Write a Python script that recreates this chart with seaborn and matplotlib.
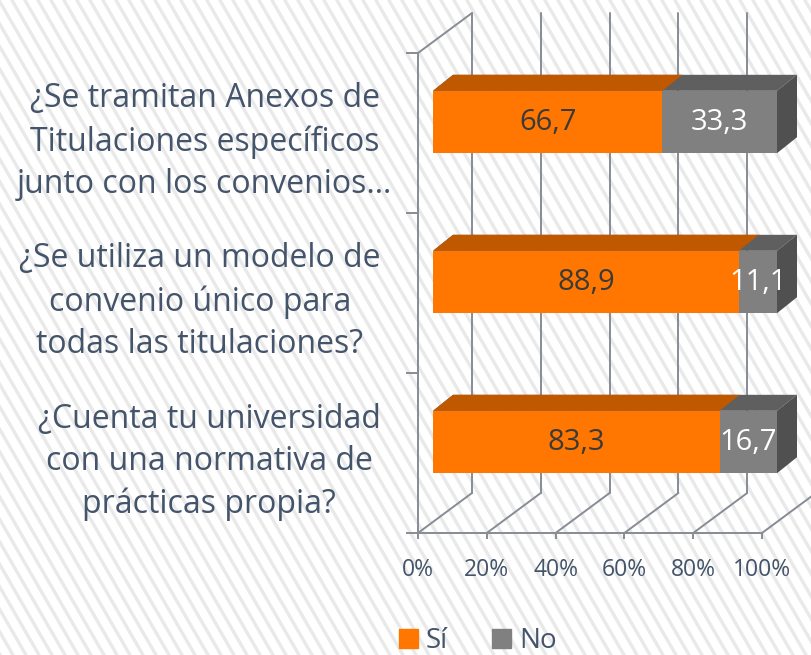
import numpy as np
import pandas as pd
import matplotlib.pyplot as plt
import seaborn as sns
from matplotlib.patches import Patch, Polygon
from matplotlib.lines import Line2D
from matplotlib.transforms import ScaledTranslation

# Datos de la encuesta (%)
preguntas = [
    "¿Se tramitan Anexos de\nTitulaciones específicos\njunto con los convenios…",
    "¿Se utiliza un modelo de\nconvenio único para\ntodas las titulaciones?",
    "¿Cuenta tu universidad\ncon una normativa de\nprácticas propia?",
]
si = [66.7, 88.9, 83.3]
no = [33.3, 11.1, 16.7]
x_ticks = [0, 20, 40, 60, 80, 100]
x_labels = ["0%", "20%", "40%", "60%", "80%", "100%"]

ORANGE, ORANGE_TOP = "#ff7700", "#c05800"
GRAY, GRAY_TOP, GRAY_SIDE = "#808080", "#5f5f5f", "#505050"
GRID = "#878c95"
TEXT = "#44546a"

sns.set_theme(style="white")
plt.rcParams["font.family"] = ["Open Sans", "DejaVu Sans"]

W, H = 811, 655
fig = plt.figure(figsize=(W / 100, H / 100), dpi=100)
fig.patch.set_facecolor("white")

# fondo rayado (decoracion)
step, shift = 13, H * np.tan(np.radians(30))
for xs in np.arange(-shift, W + step, step):
    fig.add_artist(Line2D([xs / W, (xs + shift) / W], [1, 0], transform=fig.transFigure,
                          color="#e9e9e9", lw=2.4, zorder=-10))

ax = fig.add_axes([418 / W, 122 / H, 344 / W, 480 / H])
ax.patch.set_alpha(0)

df = pd.DataFrame({"pregunta": preguntas, "si": si, "total": np.add(si, no)})
sns.barplot(data=df, x="total", y="pregunta", color=GRAY, orient="h", width=0.39,
            saturation=1, errorbar=None, ax=ax)
sns.barplot(data=df, x="si", y="pregunta", color=ORANGE, orient="h", width=0.39,
            saturation=1, errorbar=None, ax=ax)
ax.set_xlim(0, 100)
ax.set_ylim(2.5, -0.5)
ax.set_xlabel("")
ax.set_ylabel("")

# pixel -> data units for the 3D effect
o = ax.transData.transform((0, 0))
ux = ax.transData.transform((1, 0))[0] - o[0]
uy = ax.transData.transform((0, 1))[1] - o[1]


def px(dx, dy):
    return dx / ux, dy / uy


front_tr = ax.transData + ScaledTranslation(15 / 100, 11 / 100, fig.dpi_scale_trans)
dep = px(20, 16)
wall = px(54, 40)

# walls and floor
for t in x_ticks:
    ax.plot([t, t + wall[0]], [2.5, 2.5 + wall[1]], color=GRID, lw=1.4, clip_on=False, zorder=1)
    ax.plot([t + wall[0]] * 2, [2.5 + wall[1], -0.5 + wall[1]], color=GRID, lw=1.4,
            clip_on=False, zorder=1)
ax.plot([0, wall[0]], [-0.5, -0.5 + wall[1]], color=GRID, lw=1.4, clip_on=False, zorder=1)

# bars with depth
bars = list(ax.patches)
for k, p in enumerate(bars):
    is_gray = k < len(preguntas)
    p.set_transform(front_tr)
    p.set_clip_on(False)
    p.set_linewidth(0)
    p.set_zorder(5)
    x0, y0, w, h = p.get_x(), p.get_y(), p.get_width(), p.get_height()
    top = [(x0, y0), (x0 + w, y0), (x0 + w + dep[0], y0 + dep[1]), (x0 + dep[0], y0 + dep[1])]
    ax.add_patch(Polygon(top, closed=True, facecolor=GRAY_TOP if is_gray else ORANGE_TOP,
                         linewidth=0, transform=front_tr, zorder=3 if is_gray else 4, clip_on=False))
    if is_gray:
        side = [(x0 + w, y0), (x0 + w + dep[0], y0 + dep[1]),
                (x0 + w + dep[0], y0 + h + dep[1]), (x0 + w, y0 + h)]
        ax.add_patch(Polygon(side, closed=True, facecolor=GRAY_SIDE, linewidth=0,
                             transform=front_tr, zorder=3, clip_on=False))

for i in range(len(preguntas)):
    ax.text(si[i] / 2, i, f"{si[i]:.1f}".replace(".", ","), transform=front_tr,
            ha="center", va="center", fontsize=21, color="#3a3a3a", zorder=6, clip_on=False)
    ax.text(si[i] + no[i] / 2, i, f"{no[i]:.1f}".replace(".", ","), transform=front_tr,
            ha="center", va="center", fontsize=21, color="white", zorder=6, clip_on=False)

# axes
for s in ["top", "right"]:
    ax.spines[s].set_visible(False)
for s in ["left", "bottom"]:
    ax.spines[s].set_color(GRID)
    ax.spines[s].set_linewidth(1.4)

ax.set_xticks(x_ticks, x_labels)
ax.tick_params(axis="x", bottom=True, length=4, width=1.4, color=GRID, labelsize=16.5,
               labelcolor=TEXT, pad=14)
ax.set_yticks(range(len(preguntas)), preguntas)
ax.set_yticks([-0.5, 0.5, 1.5, 2.5], minor=True)
ax.tick_params(axis="y", which="major", left=False, length=0, labelsize=23, labelcolor=TEXT, pad=27)
ax.tick_params(axis="y", which="minor", left=True, length=9, width=1.4, color=GRID)
for lab in ax.get_yticklabels():
    lab.set_multialignment("center")
    lab.set_linespacing(1.38)
# the truncated first label overflows a little to the right, as in the original
lab0 = ax.get_yticklabels()[0]
lab0.set_transform(lab0.get_transform() + ScaledTranslation(0.12, 0, fig.dpi_scale_trans))

handles = [Patch(color=ORANGE, label="Sí"), Patch(color=GRAY, label="No")]
fig.legend(handles=handles, loc="center", bbox_to_anchor=(478 / W, 1 - 641 / H), ncol=2,
           frameon=False, fontsize=20, handlelength=0.68, handleheight=0.68,
           handletextpad=0.3, columnspacing=1.6, labelcolor=TEXT)

fig.savefig("out.png", dpi=100)
